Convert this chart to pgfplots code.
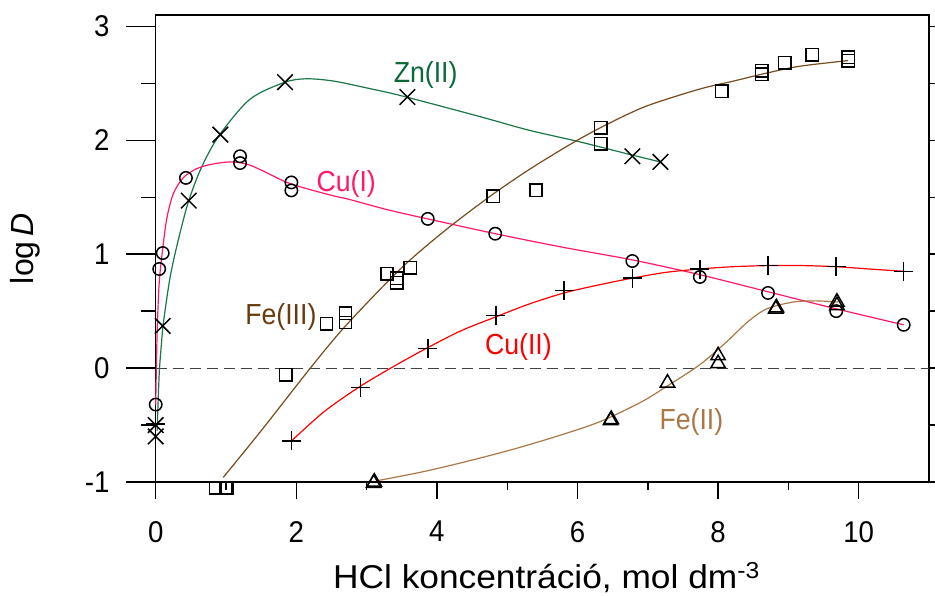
\documentclass[border=0pt]{standalone}
\usepackage{fontspec}
\setmainfont{Liberation Sans}
\newfontfamily\nfont{Liberation Sans}[FakeStretch=0.92]
\newfontfamily\wfont{Liberation Sans}[FakeStretch=1.07]
\usepackage{pgfplots}
\pgfplotsset{compat=1.18}
\definecolor{zncol}{RGB}{25,118,70}
\definecolor{znlab}{RGB}{10,105,55}
\definecolor{cuIcol}{RGB}{255,25,110}
\definecolor{cuIIcol}{RGB}{255,0,0}
\definecolor{feIIIcol}{RGB}{120,75,30}
\definecolor{feIIIlab}{RGB}{105,60,15}
\definecolor{feIIcol}{RGB}{170,120,70}
\begin{document}
\begin{tikzpicture}
\begin{axis}[
  at={(0,0)}, anchor=south west,
  scale only axis, width=773.3pt, height=467pt,
  xmin=0, xmax=11, ymin=-1, ymax=3.1,
  clip=false,
  axis line style={line width=1.4pt},
  xtick={0,2,4,6,8,10}, xticklabels={0,2,4,6,8,10},
  ytick={-1,0,1,2,3}, yticklabels={-1,0,1,2,3},
  major tick length=0pt, minor tick length=0pt,
  tick style={draw=none},
  xticklabel style={font=\nfont\fontsize{30}{30}\selectfont, anchor=north, inner sep=0pt, yshift=-39pt},
  yticklabel style={font=\nfont\fontsize{30}{30}\selectfont, anchor=east, inner sep=0pt, xshift=-46pt},
]
% zero line
\addplot[black!75, dash pattern=on 11pt off 6pt, line width=1pt] coordinates {(0,0) (11,0)};

% ---- fitted curves ----
\addplot[zncol, line width=1.2pt, smooth, tension=0.5, no marks] coordinates {
(0.02,-0.55) (0.05,-0.05) (0.08,0.2) (0.11,0.40) (0.2,0.78) (0.3,1.07) (0.46,1.45) (0.65,1.76) (0.9,2.04) (1.34,2.36) (1.84,2.51) (2.15,2.54) (2.53,2.52) (3.0,2.46) (3.5,2.39) (4.6,2.21) (5.3,2.09) (6.04,1.985) (6.78,1.87) (7.18,1.81)};
\addplot[cuIcol, line width=1.2pt, smooth, tension=0.5, no marks] coordinates {
(0,-0.32) (0.02,0.3) (0.05,0.75) (0.10,1.05) (0.16,1.32) (0.25,1.53) (0.39,1.67) (0.58,1.75) (0.8,1.79) (1.06,1.81) (1.3,1.79) (1.53,1.73) (1.91,1.62) (2.48,1.52) (2.76,1.48) (3.3,1.39) (3.87,1.31) (4.83,1.18) (5.8,1.06) (6.78,0.95) (7.74,0.82) (8.71,0.67) (9.68,0.52) (10.64,0.38)};
\addplot[cuIIcol, line width=1.2pt, smooth, tension=0.5, no marks] coordinates {
(1.93,-0.64) (2.4,-0.38) (2.91,-0.16) (3.4,0.02) (3.87,0.18) (4.35,0.33) (4.84,0.45) (5.3,0.56) (5.81,0.66) (6.3,0.73) (6.78,0.79) (7.25,0.84) (7.74,0.87) (8.2,0.89) (8.71,0.90) (9.2,0.90) (9.68,0.89) (10.15,0.87) (10.64,0.85)};
\addplot[feIIIcol, line width=1.2pt, smooth, tension=0.5, no marks] coordinates {
(0.96,-0.96) (1.5,-0.55) (2.2,0.0) (2.7,0.37) (3.48,0.87) (4.1,1.2) (4.76,1.51) (5.33,1.75) (5.94,1.98) (6.42,2.14) (6.98,2.30) (7.74,2.45) (8.22,2.52) (8.69,2.59) (9.16,2.65) (9.85,2.70)};
\addplot[feIIcol, line width=1.2pt, smooth, tension=0.5, no marks] coordinates {
(3.14,-0.99) (3.8,-0.91) (4.42,-0.82) (5.1,-0.71) (5.75,-0.59) (6.32,-0.47) (6.9,-0.30) (7.27,-0.16) (7.74,0.03) (8.12,0.23) (8.41,0.40) (8.69,0.52) (9.07,0.58) (9.40,0.59) (9.71,0.58)};

% ---- measured points ----
% Zn(II)
\addplot[only marks, mark=x, mark size=11pt, mark options={black, line width=1.5pt}] coordinates {
(0,-0.50) (0,-0.60) (0.10,0.37) (0.47,1.47) (0.92,2.05) (1.84,2.51) (3.58,2.38) (6.78,1.86) (7.18,1.81)};
% Cu(I)
\addplot[only marks, mark=o, mark size=6.2pt, mark options={black, line width=1.5pt}] coordinates {
(0,-0.32) (0.05,0.87) (0.10,1.01) (0.43,1.67) (1.2,1.86) (1.2,1.80) (1.93,1.63) (1.93,1.56) (3.87,1.31) (4.83,1.18) (6.78,0.94) (7.74,0.80) (8.71,0.66) (9.68,0.50) (10.64,0.38)};
% Cu(II)
\addplot[only marks, mark=+, mark size=9.5pt, mark options={black, line width=1.5pt}] coordinates {
(0,-0.49) (1.93,-0.64) (2.91,-0.17) (3.87,0.17) (4.84,0.46) (5.81,0.68) (6.78,0.79) (7.74,0.87) (8.71,0.90) (9.68,0.89) (10.64,0.85)};
% Fe(III)
\addplot[only marks, mark=square, mark size=6.2pt, mark options={black, line width=1.5pt}] coordinates {
(0.85,-1.05) (1.0,-1.05) (1.02,-1.05) (1.85,-0.06) (2.43,0.39) (2.70,0.48) (2.70,0.40) (3.29,0.83) (3.43,0.79) (3.43,0.75) (3.62,0.88) (4.80,1.51) (5.41,1.56) (6.33,2.11) (6.33,1.97) (8.05,2.43) (8.62,2.61) (8.62,2.58) (8.95,2.68) (9.34,2.75) (9.85,2.73) (9.85,2.70)};
% Fe(II)
\addplot[only marks, mark=triangle, mark size=8.3pt, mark options={black, line width=1.5pt}] coordinates {
(3.1,-1.01) (3.11,-1.0) (6.47,-0.46) (6.48,-0.45) (7.28,-0.13) (8.0,0.11) (8.0,0.04) (8.82,0.52) (8.83,0.53) (9.69,0.58) (9.69,0.55)};

% ---- series labels ----
\node[anchor=base, text=znlab, font=\nfont\fontsize{29}{29}\selectfont] at (axis cs:3.84,2.506) {Zn(II)};
\node[anchor=base, text=cuIcol, font=\nfont\fontsize{29}{29}\selectfont] at (axis cs:2.71,1.553) {Cu(I)};
\node[anchor=base, text=feIIIlab, font=\nfont\fontsize{29}{29}\selectfont] at (axis cs:1.78,0.386) {Fe(III)};
\node[anchor=base, text=cuIIcol, font=\nfont\fontsize{29}{29}\selectfont] at (axis cs:5.16,0.123) {Cu(II)};
\node[anchor=base, text=feIIcol, font=\nfont\fontsize{29}{29}\selectfont] at (axis cs:7.62,-0.535) {Fe(II)};
\end{axis}

% ---- tick marks ----
\begin{scope}[line width=1.4pt]
\foreach \t in {0,2,4,6,8,10} \draw (\t*70.3pt,0) -- ++(0,-17pt);
\foreach \t in {1,3,5,7,9} \draw (\t*70.3pt,0) -- ++(0,-8pt);
\foreach \v in {0,1,2,3,4} \draw (0,\v*113.9pt) -- ++(-30pt,0);
\foreach \v in {0.5,1.5,2.5,3.5} \draw (0,\v*113.9pt) -- ++(-15pt,0);
\foreach \v in {0,0.5,1,1.5,2,2.5,3,3.5,4} \draw (773.3pt,\v*113.9pt) -- ++(8pt,0);
\end{scope}

% ---- axis titles ----
\node[rotate=90, anchor=center, font=\fontsize{32}{32}\selectfont] at (-130.7pt,233.5pt) {log\,\textit{D}};
\node[anchor=base, font=\wfont\fontsize{33}{33}\selectfont] at (390.8pt,-106pt) {HCl koncentráció, mol dm\textsuperscript{-3}};

\pgfresetboundingbox
\path[use as bounding box] (-155.7pt,-113pt) rectangle (779.3pt,482pt);
\end{tikzpicture}
\end{document}
